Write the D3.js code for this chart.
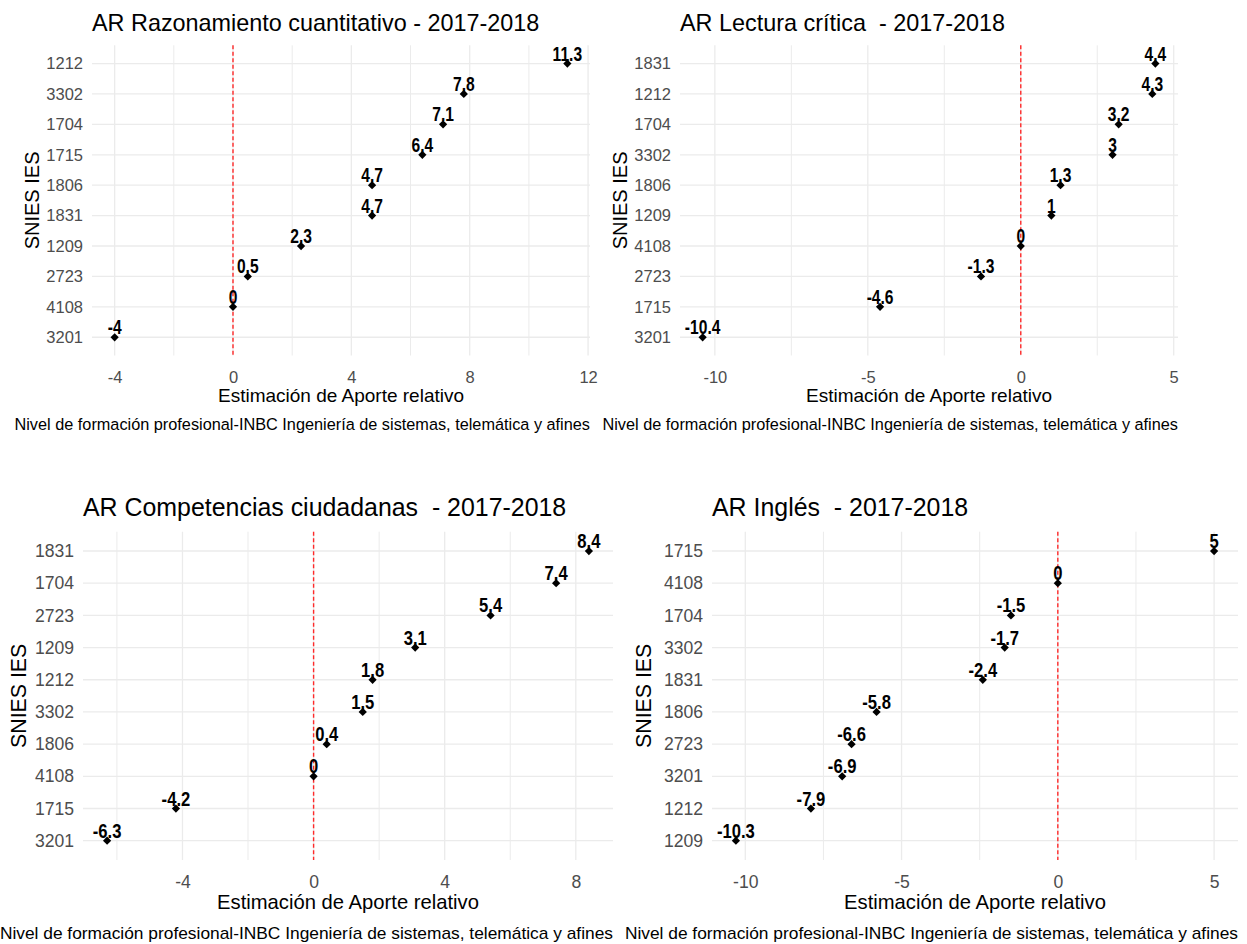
<!DOCTYPE html>
<html>
<head>
<meta charset="utf-8">
<script src="https://cdn.jsdelivr.net/npm/d3@7"></script>
<style>
  html, body { margin: 0; padding: 0; background: #ffffff; }
  svg { display: block; }
  text { white-space: pre; }
</style>
</head>
<body>
<svg id="chart" width="1247" height="944"></svg>
<script>
// ---------- DATA ----------
const titleRazonamiento = "AR Razonamiento cuantitativo - 2017-2018";
const catsRazonamiento = ["1212", "3302", "1704", "1715", "1806", "1831", "1209", "2723", "4108", "3201"];
const valsRazonamiento = [11.3, 7.8, 7.1, 6.4, 4.7, 4.7, 2.3, 0.5, 0, -4];
const ticksRazonamiento = [-4, 0, 4, 8, 12];

const titleLectura = "AR Lectura crítica  - 2017-2018";
const catsLectura = ["1831", "1212", "1704", "3302", "1806", "1209", "4108", "2723", "1715", "3201"];
const valsLectura = [4.4, 4.3, 3.2, 3, 1.3, 1, 0, -1.3, -4.6, -10.4];
const ticksLectura = [-10, -5, 0, 5];

const titleCompetencias = "AR Competencias ciudadanas  - 2017-2018";
const catsCompetencias = ["1831", "1704", "2723", "1209", "1212", "3302", "1806", "4108", "1715", "3201"];
const valsCompetencias = [8.4, 7.4, 5.4, 3.1, 1.8, 1.5, 0.4, 0, -4.2, -6.3];
const ticksCompetencias = [-4, 0, 4, 8];

const titleIngles = "AR Inglés  - 2017-2018";
const catsIngles = ["1715", "4108", "1704", "3302", "1831", "1806", "2723", "3201", "1212", "1209"];
const valsIngles = [5, 0, -1.5, -1.7, -2.4, -5.8, -6.6, -6.9, -7.9, -10.3];
const ticksIngles = [-10, -5, 0, 5];

const xAxisTitle = "Estimación de Aporte relativo";
const yAxisTitle = "SNIES IES";
const captionText = "Nivel de formación profesional-INBC Ingeniería de sistemas, telemática y afines";

// ---------- LAYOUT ----------
const panels = [
  { title: titleRazonamiento, cats: catsRazonamiento, vals: valsRazonamiento, ticks: ticksRazonamiento,
    left: 92, right: 590, top: 45.3, bottom: 355.5, yTitleX: 32, titleY: 31, fs: 1 },
  { title: titleLectura, cats: catsLectura, vals: valsLectura, ticks: ticksLectura,
    left: 680, right: 1178, top: 45.3, bottom: 355.5, yTitleX: 620, titleY: 31, fs: 1 },
  { title: titleCompetencias, cats: catsCompetencias, vals: valsCompetencias, ticks: ticksCompetencias,
    left: 83, right: 613, top: 531.7, bottom: 860, yTitleX: 19, titleY: 516, fs: 1.065 },
  { title: titleIngles, cats: catsIngles, vals: valsIngles, ticks: ticksIngles,
    left: 712, right: 1238, top: 531.7, bottom: 860, yTitleX: 644, titleY: 516, fs: 1.065 }
];

const svg = d3.select("#chart");
const baseFont = "'Liberation Sans', Arial, Helvetica, sans-serif";
const gridColor = "#ebebeb";

panels.forEach(p => {
  const g = svg.append("g");
  const f = p.fs;
  const ext = d3.extent(p.vals);
  const pad = (ext[1] - ext[0]) * 0.05;
  const x = d3.scaleLinear().domain([ext[0] - pad, ext[1] + pad]).range([p.left, p.right]);
  const y = d3.scalePoint().domain(p.cats).range([p.top, p.bottom]).padding(0.6);

  // minor grid (midpoints between major ticks, within domain)
  const step = p.ticks[1] - p.ticks[0];
  const dom = x.domain();
  const minors = [];
  for (let v = p.ticks[0] - step / 2; v <= p.ticks[p.ticks.length - 1] + step / 2; v += step) {
    if (v >= dom[0] && v <= dom[1]) minors.push(v);
  }
  g.append("g").selectAll("line").data(minors).join("line")
    .attr("x1", d => x(d)).attr("x2", d => x(d))
    .attr("y1", p.top).attr("y2", p.bottom)
    .attr("stroke", gridColor).attr("stroke-width", 1);

  // major vertical grid
  g.append("g").selectAll("line").data(p.ticks.filter(t => t >= dom[0] && t <= dom[1])).join("line")
    .attr("x1", d => x(d)).attr("x2", d => x(d))
    .attr("y1", p.top).attr("y2", p.bottom)
    .attr("stroke", gridColor).attr("stroke-width", 1.3);

  // horizontal grid
  g.append("g").selectAll("line").data(p.cats).join("line")
    .attr("x1", p.left).attr("x2", p.right)
    .attr("y1", d => y(d)).attr("y2", d => y(d))
    .attr("stroke", gridColor).attr("stroke-width", 1.3);

  // red dashed zero line
  g.append("line")
    .attr("x1", x(0)).attr("x2", x(0))
    .attr("y1", p.top).attr("y2", p.bottom)
    .attr("stroke", "#ff2a2a").attr("stroke-width", 1.4)
    .attr("stroke-dasharray", "4,2.5");

  // x axis
  const xAxis = g.append("g")
    .attr("transform", `translate(0,${p.bottom})`)
    .call(d3.axisBottom(x).tickValues(p.ticks).tickSize(0).tickPadding(16).tickFormat(d => String(d)));
  xAxis.select(".domain").remove();
  xAxis.selectAll("text").attr("fill", "#4d4d4d").style("font-size", (16.5 * f) + "px").style("font-family", baseFont);

  // y axis
  const yAxis = g.append("g")
    .attr("transform", `translate(${p.left},0)`)
    .call(d3.axisLeft(y).tickSize(0).tickPadding(9));
  yAxis.select(".domain").remove();
  yAxis.selectAll("text").attr("fill", "#4d4d4d").style("font-size", (16.5 * f) + "px").style("font-family", baseFont);

  // points (filled diamonds)
  const pts = p.cats.map((c, i) => ({ c, v: p.vals[i] }));
  g.append("g").selectAll("path").data(pts).join("path")
    .attr("d", d3.symbol().type(d3.symbolSquare).size(34))
    .attr("transform", d => `translate(${x(d.v)},${y(d.c)}) rotate(45)`)
    .attr("fill", "#000");

  // data labels (bold, condensed)
  g.append("g").selectAll("text").data(pts).join("text")
    .attr("transform", d => `translate(${x(d.v)},${y(d.c) - 3}) scale(0.8,1)`)
    .attr("text-anchor", "middle")
    .style("font-family", baseFont).style("font-weight", "bold").style("font-size", (19.5 * f) + "px")
    .attr("fill", "#000")
    .text(d => String(d.v));

  // title
  g.append("text")
    .attr("x", p.left).attr("y", p.titleY)
    .style("font-family", baseFont).style("font-size", (23.4 * f) + "px").attr("fill", "#000")
    .text(p.title);

  // x axis title
  g.append("text")
    .attr("x", (p.left + p.right) / 2).attr("y", p.bottom + 46 * f)
    .attr("text-anchor", "middle")
    .style("font-family", baseFont).style("font-size", (19 * f) + "px").attr("fill", "#000")
    .text(xAxisTitle);

  // y axis title
  g.append("text")
    .attr("transform", `translate(${p.yTitleX + 7},${(p.top + p.bottom) / 2}) rotate(-90)`)
    .attr("text-anchor", "middle")
    .style("font-family", baseFont).style("font-size", (20 * f) + "px").attr("fill", "#000")
    .text(yAxisTitle);

  // caption
  g.append("text")
    .attr("x", p.right).attr("y", p.bottom + 74 * f)
    .attr("text-anchor", "end")
    .style("font-family", baseFont).style("font-size", (16.3 * f) + "px").attr("fill", "#000")
    .text(captionText);
});
</script>
</body>
</html>
